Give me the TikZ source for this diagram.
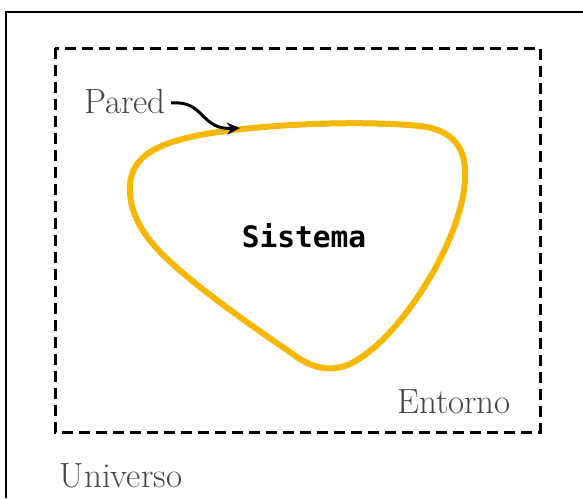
\documentclass[tikz,border=0pt]{standalone}
\usepackage{fontspec}
\newfontfamily\monob{DejaVu Sans Mono}
\usetikzlibrary{arrows.meta}
\definecolor{wallc}{HTML}{F5B800}
\tikzset{
  lbl/.style={text=black!72, font=\fontsize{35}{36}\selectfont, inner sep=0pt},
  frame/.style={line width=1.5pt, black},
  envbox/.style={line width=3pt, black, dash pattern=on 11pt off 6pt},
  wall/.style={line width=6pt, wallc, line join=round},
  ptr/.style={line width=3pt, black, -{Stealth[length=13pt,width=12pt]}}
}
\begin{document}
\begin{tikzpicture}[x=1pt,y=-1pt]
\useasboundingbox (0,0) rectangle (583,498);
\fill[white] (0,0) rectangle (583,498);
% universe frame (cut by the picture edge)
\draw[frame] (6,498) -- (6,12) -- (583,12);
% environment
\draw[envbox] (55,48) rectangle (540,432);
% system wall
\draw[wall] (130,193) .. controls (128,160) and (150,145) .. (200,135)
  .. controls (260,124) and (360,120) .. (420,126)
  .. controls (455,130) and (467,150) .. (465,180)
  .. controls (462,240) and (400,340) .. (350,364)
  .. controls (330,373) and (310,368) .. (290,352)
  .. controls (240,318) and (178,274) .. (152,243)
  .. controls (138,226) and (131,210) .. (130,193) -- cycle;
\coordinate (wallpt) at (240,128);
\node[lbl] (pared) at (125,101) {Pared};
\node[lbl] (entorno) at (454,402) {Entorno};
\node[lbl] (universo) at (121,476) {Universo};
\node[inner sep=0pt, font=\monob\bfseries\fontsize{29.5}{30}\selectfont] (sistema) at (304,236) {Sistema};
\draw[ptr] (pared.east) ++(5,2) coordinate (ps) .. controls (205,100) and (200,130) .. (wallpt);
\end{tikzpicture}
\end{document}
